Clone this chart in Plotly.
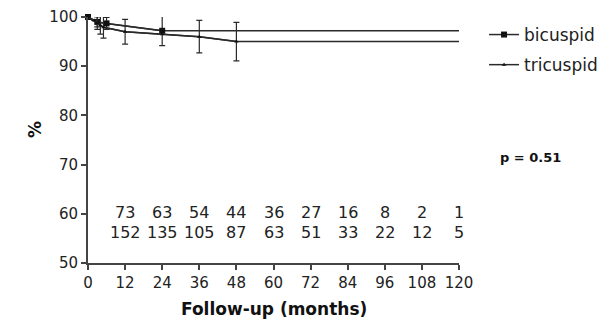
import plotly.graph_objects as go

# Bicuspid Kaplan-Meier estimates
bi_months = [0, 3, 6, 24]
bi_surv = [100, 99.0, 98.7, 97.2]
bi_err = [None, 1.0, 1.2, 3.0]
bi_end = 120

# Tricuspid Kaplan-Meier estimates
tri_months = [0, 2, 3, 4, 5, 12, 24, 36, 48]
tri_surv = [100, 99.3, 98.8, 98.3, 97.9, 97.0, 96.5, 96.0, 95.0]
tri_err = [None, None, 1.3, 1.8, 2.2, 2.5, None, 3.3, 3.9]
tri_end = 120

# Numbers at risk
risk_months = [12, 24, 36, 48, 60, 72, 84, 96, 108, 120]
risk_bi = [73, 63, 54, 44, 36, 27, 16, 8, 2, 1]
risk_tri = [152, 135, 105, 87, 63, 51, 33, 22, 12, 5]

x_ticks = list(range(0, 121, 12))
y_ticks = [50, 60, 70, 80, 90, 100]
p_text = "p = 0.51"

FONT = "DejaVu Sans, Liberation Sans, Arial, sans-serif"
LC = "#2a2a2a"

# page body has an 8px default margin; plot area target: x 88..459, y 17..263
L, T, PW, PH = 80, 9, 371, 246
BOT = T + PH + 8  # page y of the x axis

fig = go.Figure()

# tails (lines only)
fig.add_trace(go.Scatter(x=bi_months + [bi_end], y=bi_surv + [bi_surv[-1]], mode="lines",
                         line=dict(color=LC, width=1.5), showlegend=False, hoverinfo="skip",
                         cliponaxis=False))
fig.add_trace(go.Scatter(x=tri_months + [tri_end], y=tri_surv + [tri_surv[-1]], mode="lines",
                         line=dict(color=LC, width=1.5), showlegend=False, hoverinfo="skip",
                         cliponaxis=False))

fig.add_trace(go.Scatter(x=bi_months, y=bi_surv, mode="lines+markers", name="bicuspid",
                         legendgroup="b",
                         line=dict(color=LC, width=1.5),
                         marker=dict(symbol="square", size=6, color="#111"),
                         error_y=dict(type="data", array=bi_err, color=LC, thickness=1.2, width=3),
                         cliponaxis=False))
fig.add_trace(go.Scatter(x=tri_months, y=tri_surv, mode="lines+markers", name="tricuspid",
                         legendgroup="t",
                         line=dict(color=LC, width=1.5),
                         marker=dict(symbol="triangle-up", size=4, color="#111"),
                         error_y=dict(type="data", array=tri_err, color=LC, thickness=1.2, width=3),
                         cliponaxis=False))

for m, a, b in zip(risk_months, risk_bi, risk_tri):
    fig.add_annotation(x=m, y=60.2, text=str(a), showarrow=False, xanchor="center",
                       font=dict(size=16, color="#222", family=FONT))
    fig.add_annotation(x=m, y=56.3, text=str(b), showarrow=False, xanchor="center",
                       font=dict(size=16, color="#222", family=FONT))

fig.add_annotation(x=(530 - 88) / PW, y=(BOT - 157) / PH, xref="paper", yref="paper",
                   text="<b>" + p_text + "</b>", showarrow=False, xanchor="center", yanchor="middle",
                   font=dict(size=13, color="#111", family=FONT))
fig.add_annotation(x=(35 - 88) / PW, y=(BOT - 130) / PH, xref="paper", yref="paper",
                   text="<b>%</b>", showarrow=False, textangle=-90, xanchor="center", yanchor="middle",
                   font=dict(size=17, color="#111", family=FONT))
fig.add_annotation(x=0.5, y=-(309 - BOT) / PH, xref="paper", yref="paper",
                   text="<b>Follow-up (months)</b>", showarrow=False, xanchor="center", yanchor="middle",
                   font=dict(size=17, color="#111", family=FONT))

fig.update_layout(
    width=605, height=315,
    margin=dict(l=L, r=605 - L - PW, t=T, b=315 - T - PH),
    paper_bgcolor="white", plot_bgcolor="white",
    font=dict(family=FONT, color="#222", size=15),
    showlegend=True,
    legend=dict(x=1.0675, y=1.0, xanchor="left", yanchor="top", tracegroupgap=5,
                font=dict(size=17, color="#222", family=FONT), bgcolor="rgba(0,0,0,0)",
                itemwidth=30),
    xaxis=dict(range=[0, 120], tickvals=x_ticks, showgrid=False, zeroline=False,
               showline=True, linecolor="#444", linewidth=2, ticks="outside", ticklen=5,
               tickwidth=1.5, tickcolor="#444", tickfont=dict(size=15), automargin=False),
    yaxis=dict(range=[50, 100], tickvals=y_ticks, showgrid=False, zeroline=False,
               showline=True, linecolor="#444", linewidth=2, ticks="outside", ticklen=5,
               tickwidth=1.5, tickcolor="#444", tickfont=dict(size=15), automargin=False,
               ticklabeloverflow="allow"),
)

fig.write_html("out.html")
